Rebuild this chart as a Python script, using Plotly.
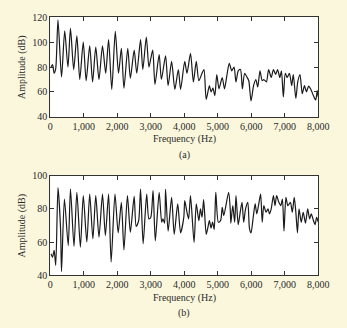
import plotly.graph_objects as go
from plotly.subplots import make_subplots

# Panel (a)
freq_a = [19, 67, 115, 162, 229, 335, 430, 526, 602, 698, 793, 879, 984, 1070, 1176, 1262,
          1357, 1453, 1558, 1654, 1740, 1835, 1940, 2036, 2122, 2198, 2313, 2390, 2504, 2581,
          2695, 2762, 2867, 2944, 3001, 3059, 3125, 3250, 3317, 3441, 3517, 3622, 3718, 3823,
          3890, 4014, 4081, 4186, 4272, 4358, 4435, 4530, 4588, 4655, 4750, 4798, 4855, 4913,
          4970, 5037, 5133, 5200, 5276, 5343, 5419, 5486, 5544, 5611, 5677, 5735, 5802, 5869,
          5926, 5993, 6069, 6136, 6194, 6260, 6327, 6375, 6452, 6518, 6595, 6662, 6729, 6786,
          6853, 6901, 6958, 7016, 7073, 7140, 7207, 7255, 7331, 7388, 7455, 7522, 7589, 7646,
          7713, 7780, 7857, 7924, 7971, 8000]
amp_a = [80, 82, 75, 79, 118, 72, 109, 80, 111, 78, 105, 70, 100, 69, 97, 68,
         96, 70, 97, 75, 102, 62, 108.6, 75, 95, 63, 95, 71, 93.6, 75,
         102, 78, 104, 80, 87, 93.6, 66, 90, 70, 89, 65, 84.5, 62, 78,
         62, 84.5, 75, 91, 68, 84.5, 69, 75, 78, 54, 65, 60, 63, 57,
         74, 62.5, 71.6, 62.5, 74, 83, 77, 80, 68, 77, 78, 62.5, 75, 72,
         69, 52.7, 65, 70, 64, 77, 69, 70, 68, 78, 71.6, 78, 74, 78,
         71.6, 77, 56, 75, 71.6, 75, 65, 74, 54.8, 68, 74, 58.6, 65, 60,
         64.6, 62, 57, 53.5, 61, 56]

# Panel (b)
freq_b = [19, 67, 115, 162, 229, 306, 335, 421, 535, 602, 707, 793, 898, 984, 1090, 1176,
          1271, 1357, 1453, 1558, 1644, 1740, 1816, 1931, 2026, 2122, 2198, 2303, 2390, 2504,
          2562, 2638, 2695, 2772, 2877, 2944, 3001, 3068, 3135, 3250, 3326, 3364, 3412, 3441,
          3517, 3622, 3699, 3804, 3890, 3986, 4014, 4081, 4129, 4186, 4292, 4358, 4435, 4483,
          4530, 4578, 4655, 4702, 4750, 4798, 4846, 4894, 4941, 5018, 5085, 5133, 5180, 5324,
          5372, 5391, 5448, 5505, 5544, 5611, 5677, 5725, 5773, 5830, 5897, 5945, 5993, 6060,
          6117, 6165, 6232, 6280, 6327, 6375, 6442, 6499, 6547, 6595, 6662, 6710, 6757, 6824,
          6882, 6930, 6977, 7035, 7092, 7169, 7226, 7283, 7331, 7379, 7426, 7493, 7551, 7618,
          7685, 7742, 7790, 7857, 7904, 7952, 8000]
amp_b = [53, 51, 55, 46, 92.8, 68, 42.3, 86, 58, 92, 57.5, 90, 57, 88, 60, 89,
         62, 88, 63, 89, 64, 89, 48, 89, 65.6, 84, 55.3, 88, 66, 87.6,
         69.5, 73, 92, 59, 89, 74, 75, 91, 60.8, 90, 72, 74, 71.5, 91.8,
         66.6, 87, 64.7, 83, 65.6, 75, 85, 78, 74, 88, 59.8, 83, 73, 80,
         75, 85.6, 64.7, 68.5, 73, 68.5, 72, 67.6, 90, 72, 73, 81, 76, 90,
         80, 71.5, 82, 72, 88, 70.5, 79, 84, 72, 80, 84, 68.5, 65.6, 75.3,
         83, 77, 84, 89, 72, 82, 78, 80, 77, 80, 88, 82, 88, 84,
         82, 86, 66.6, 87, 82, 84, 78, 87, 78, 65.6, 80, 72, 78, 71.5,
         80, 74, 77, 73, 70.5, 75, 72]

x_ticks = [0, 1000, 2000, 3000, 4000, 5000, 6000, 7000, 8000]
y_ticks_a = [40, 60, 80, 100, 120]
y_ticks_b = [40, 60, 80, 100]

W, H = 347, 328
BG = "#FBF7DC"
FONT = "Liberation Serif"
TXT = "#2a2a2a"

fig = go.Figure()
fig.add_trace(go.Scatter(x=freq_a, y=amp_a, mode="lines",
                         line=dict(color="#1a1a1a", width=1.2, shape="spline", smoothing=0.7),
                         xaxis="x", yaxis="y", showlegend=False, hoverinfo="skip"))
fig.add_trace(go.Scatter(x=freq_b, y=amp_b, mode="lines",
                         line=dict(color="#1a1a1a", width=1.2, shape="spline", smoothing=0.7),
                         xaxis="x2", yaxis="y2", showlegend=False, hoverinfo="skip"))

def px_x(px):
    return px / W

def px_y(py):
    return 1 - py / H

common_x = dict(range=[0, 8000], tickvals=x_ticks, tickformat=",d", ticks="inside",
                ticklen=4, tickwidth=1, tickcolor="#333", showline=True, linecolor="#333",
                linewidth=1, mirror="ticks", showgrid=False, zeroline=False,
                tickfont=dict(family=FONT, size=10, color=TXT))
common_y = dict(ticks="inside", ticklen=4, tickwidth=1, tickcolor="#333", showline=True,
                linecolor="#333", linewidth=1, mirror="ticks", showgrid=False, zeroline=False,
                tickfont=dict(family=FONT, size=10, color=TXT))

fig.update_layout(
    width=W, height=H, autosize=False,
    margin=dict(l=0, r=0, t=0, b=0),
    paper_bgcolor=BG, plot_bgcolor="white",
    xaxis=dict(domain=[px_x(49.3), px_x(328.5)], anchor="y", **common_x),
    yaxis=dict(domain=[px_y(115.7), px_y(12.7)], anchor="x", range=[40, 120],
               tickvals=y_ticks_a, **common_y),
    xaxis2=dict(domain=[px_x(49.3), px_x(328.5)], anchor="y2", **common_x),
    yaxis2=dict(domain=[px_y(279.7), px_y(176.7)], anchor="x2", range=[40, 100],
                tickvals=y_ticks_b, **common_y),
)

cx = (49.3 + 328.5) / 2 / W
ann = []
for off, lab in [(0, "(a)"), (164, "(b)")]:
    ann.append(dict(x=cx, y=px_y(139 + off), xref="paper", yref="paper", text="Frequency (Hz)",
                    showarrow=False, font=dict(family=FONT, size=10, color=TXT),
                    xanchor="center", yanchor="middle"))
    ann.append(dict(x=cx, y=px_y(155 + off), xref="paper", yref="paper", text=lab,
                    showarrow=False, font=dict(family=FONT, size=10, color=TXT),
                    xanchor="center", yanchor="middle"))
    ann.append(dict(x=px_x(20), y=px_y(64 + off), xref="paper", yref="paper",
                    text="Amplitude (dB)", textangle=-90, showarrow=False,
                    font=dict(family=FONT, size=10, color=TXT),
                    xanchor="center", yanchor="middle"))
fig.update_layout(annotations=ann)

fig.write_html("out.html")
